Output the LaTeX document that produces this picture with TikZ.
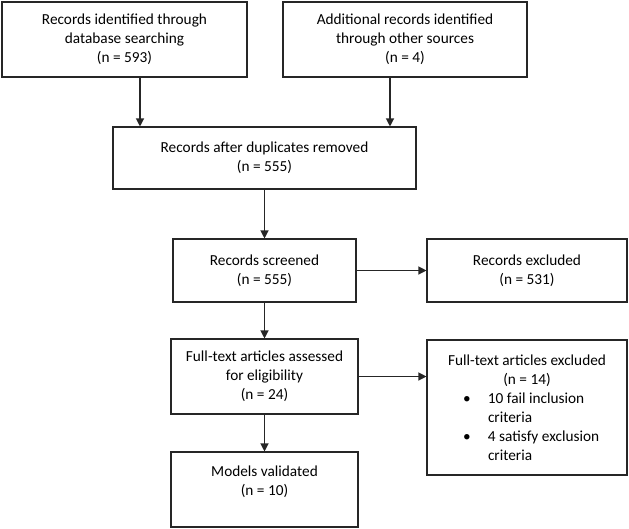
\documentclass[tikz,border=0pt]{standalone}
\usepackage{fontspec}
\setmainfont{Carlito}
\usetikzlibrary{arrows.meta, positioning}

\begin{document}
\begin{tikzpicture}[x=1pt, y=-1pt,
    box/.style={draw=black!85, line width=1.1pt, align=center, inner sep=0pt,
        font=\fontsize{15.3}{19}\selectfont},
    flow/.style={-{Triangle[length=8pt,width=8pt]}, color=black!85, line width=1.2pt}]
    \useasboundingbox (0,0) rectangle (629,528);

    \node[box, minimum width=245, minimum height=75] (found) at (124.5,39.5)
        {Records identified through\\database searching\\(n = 593)};
    \node[box, minimum width=244, minimum height=75] (other) at (405,39.5)
        {Additional records identified\\through other sources\\(n = 4)};
    \node[box, minimum width=303, minimum height=62] (dupl) at (264.5,158)
        {Records after duplicates removed\\(n = 555)};
    \node[box, minimum width=183, minimum height=63] (screen) at (264.5,270.5)
        {Records screened\\(n = 555)};
    \node[box, minimum width=200, minimum height=63] (excl) at (527,270.5)
        {Records excluded\\(n = 531)};
    \node[box, minimum width=187, minimum height=75] (full) at (264.5,376.5)
        {Full-text articles assessed\\for eligibility\\(n = 24)};
    \node[box, minimum width=200, minimum height=135, align=left] (fullexcl) at (527,407.5)
        {\makebox[180pt]{Full-text articles excluded}\\
         \makebox[180pt]{(n = 14)}\\
         \hspace*{26pt}\makebox[25pt][l]{\textbullet}10 fail inclusion\\
         \hspace*{51pt}criteria\\
         \hspace*{26pt}\makebox[25pt][l]{\textbullet}4 satisfy exclusion\\
         \hspace*{51pt}criteria};
    \node[box, minimum width=187, minimum height=75, text depth=18pt] (models) at (264.5,489.5)
        {Models validated\\(n = 10)};

    \coordinate (c1) at (140,0);
    \coordinate (c2) at (390,0);
    \draw[flow] (c1 |- found.south) -- (c1 |- dupl.north);
    \draw[flow] (c2 |- other.south) -- (c2 |- dupl.north);
    \draw[flow] (dupl) -- (screen);
    \draw[flow] (screen) -- (full);
    \draw[flow] (full) -- (models);
    \draw[flow] (screen) -- (excl);
    \draw[flow] (full.east) -- (full.east -| fullexcl.west);

\end{tikzpicture}
\end{document}
